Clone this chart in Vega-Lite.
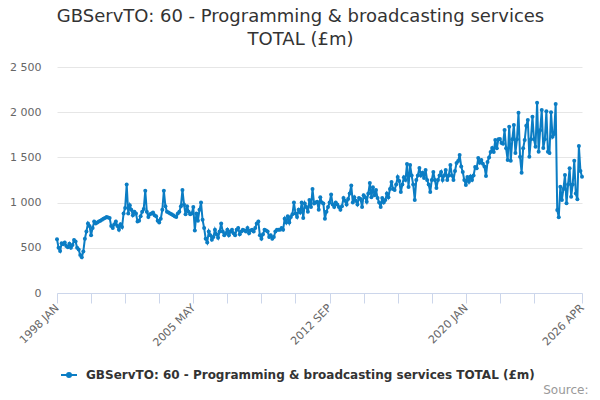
{
  "$schema": "https://vega.github.io/schema/vega-lite/v6.json",
  "width": 525,
  "height": 226,
  "autosize": "none",
  "padding": {"left": 57, "top": 67, "right": 18, "bottom": 107},
  "background": "white",
  "title": {
    "text": ["GBServTO: 60 - Programming & broadcasting services", "TOTAL (£m)"],
    "font": "DejaVu Sans",
    "fontSize": 18,
    "fontWeight": "normal",
    "color": "#333333",
    "anchor": "middle",
    "dx": -19,
    "offset": 12,
    "lineHeight": 23
  },
  "data": {
    "values": [
      {"m": "1998 JAN", "v": 595}, {"m": "1998 FEB", "v": 500}, {"m": "1998 MAR", "v": 465}, {"m": "1998 APR", "v": 550}, {"m": "1998 MAY", "v": 540}, {"m": "1998 JUN", "v": 560}, {"m": "1998 JUL", "v": 520}, {"m": "1998 AUG", "v": 505}, {"m": "1998 SEP", "v": 545}, {"m": "1998 OCT", "v": 500}, {"m": "1998 NOV", "v": 530}, {"m": "1998 DEC", "v": 585},
      {"m": "1999 JAN", "v": 570}, {"m": "1999 FEB", "v": 500}, {"m": "1999 MAR", "v": 480}, {"m": "1999 APR", "v": 420}, {"m": "1999 MAY", "v": 395}, {"m": "1999 JUN", "v": 460}, {"m": "1999 JUL", "v": 600}, {"m": "1999 AUG", "v": 680}, {"m": "1999 SEP", "v": 770}, {"m": "1999 OCT", "v": 740}, {"m": "1999 NOV", "v": 640}, {"m": "1999 DEC", "v": 720},
      {"m": "2000 JAN", "v": 790}, {"m": "2000 FEB", "v": 770}, {"m": "2000 MAR", "v": 780}, {"m": "2000 APR", "v": 790}, {"m": "2000 MAY", "v": 800}, {"m": "2000 JUN", "v": 810}, {"m": "2000 JUL", "v": 820}, {"m": "2000 AUG", "v": 830}, {"m": "2000 SEP", "v": 840}, {"m": "2000 OCT", "v": 835}, {"m": "2000 NOV", "v": 830}, {"m": "2000 DEC", "v": 740},
      {"m": "2001 JAN", "v": 720}, {"m": "2001 FEB", "v": 760}, {"m": "2001 MAR", "v": 790}, {"m": "2001 APR", "v": 740}, {"m": "2001 MAY", "v": 700}, {"m": "2001 JUN", "v": 760}, {"m": "2001 JUL", "v": 730}, {"m": "2001 AUG", "v": 880}, {"m": "2001 SEP", "v": 940}, {"m": "2001 OCT", "v": 1200}, {"m": "2001 NOV", "v": 880}, {"m": "2001 DEC", "v": 970},
      {"m": "2002 JAN", "v": 920}, {"m": "2002 FEB", "v": 860}, {"m": "2002 MAR", "v": 900}, {"m": "2002 APR", "v": 880}, {"m": "2002 MAY", "v": 790}, {"m": "2002 JUN", "v": 800}, {"m": "2002 JUL", "v": 850}, {"m": "2002 AUG", "v": 900}, {"m": "2002 SEP", "v": 930}, {"m": "2002 OCT", "v": 1130}, {"m": "2002 NOV", "v": 900}, {"m": "2002 DEC", "v": 840},
      {"m": "2003 JAN", "v": 870}, {"m": "2003 FEB", "v": 880}, {"m": "2003 MAR", "v": 890}, {"m": "2003 APR", "v": 860}, {"m": "2003 MAY", "v": 850}, {"m": "2003 JUN", "v": 800}, {"m": "2003 JUL", "v": 780}, {"m": "2003 AUG", "v": 820}, {"m": "2003 SEP", "v": 920}, {"m": "2003 OCT", "v": 1130}, {"m": "2003 NOV", "v": 960}, {"m": "2003 DEC", "v": 900},
      {"m": "2004 JAN", "v": 890}, {"m": "2004 FEB", "v": 880}, {"m": "2004 MAR", "v": 870}, {"m": "2004 APR", "v": 860}, {"m": "2004 MAY", "v": 850}, {"m": "2004 JUN", "v": 840}, {"m": "2004 JUL", "v": 880}, {"m": "2004 AUG", "v": 900}, {"m": "2004 SEP", "v": 960}, {"m": "2004 OCT", "v": 1140}, {"m": "2004 NOV", "v": 980}, {"m": "2004 DEC", "v": 870},
      {"m": "2005 JAN", "v": 960}, {"m": "2005 FEB", "v": 900}, {"m": "2005 MAR", "v": 870}, {"m": "2005 APR", "v": 880}, {"m": "2005 MAY", "v": 950}, {"m": "2005 JUN", "v": 690}, {"m": "2005 JUL", "v": 880}, {"m": "2005 AUG", "v": 800}, {"m": "2005 SEP", "v": 920}, {"m": "2005 OCT", "v": 1000}, {"m": "2005 NOV", "v": 810}, {"m": "2005 DEC", "v": 720},
      {"m": "2006 JAN", "v": 600}, {"m": "2006 FEB", "v": 560}, {"m": "2006 MAR", "v": 680}, {"m": "2006 APR", "v": 640}, {"m": "2006 MAY", "v": 590}, {"m": "2006 JUN", "v": 620}, {"m": "2006 JUL", "v": 700}, {"m": "2006 AUG", "v": 650}, {"m": "2006 SEP", "v": 610}, {"m": "2006 OCT", "v": 680}, {"m": "2006 NOV", "v": 770}, {"m": "2006 DEC", "v": 680},
      {"m": "2007 JAN", "v": 640}, {"m": "2007 FEB", "v": 660}, {"m": "2007 MAR", "v": 700}, {"m": "2007 APR", "v": 640}, {"m": "2007 MAY", "v": 680}, {"m": "2007 JUN", "v": 700}, {"m": "2007 JUL", "v": 660}, {"m": "2007 AUG", "v": 640}, {"m": "2007 SEP", "v": 700}, {"m": "2007 OCT", "v": 720}, {"m": "2007 NOV", "v": 650}, {"m": "2007 DEC", "v": 680},
      {"m": "2008 JAN", "v": 700}, {"m": "2008 FEB", "v": 690}, {"m": "2008 MAR", "v": 680}, {"m": "2008 APR", "v": 720}, {"m": "2008 MAY", "v": 660}, {"m": "2008 JUN", "v": 690}, {"m": "2008 JUL", "v": 700}, {"m": "2008 AUG", "v": 680}, {"m": "2008 SEP", "v": 720}, {"m": "2008 OCT", "v": 770}, {"m": "2008 NOV", "v": 790}, {"m": "2008 DEC", "v": 640},
      {"m": "2009 JAN", "v": 600}, {"m": "2009 FEB", "v": 650}, {"m": "2009 MAR", "v": 700}, {"m": "2009 APR", "v": 690}, {"m": "2009 MAY", "v": 680}, {"m": "2009 JUN", "v": 620}, {"m": "2009 JUL", "v": 640}, {"m": "2009 AUG", "v": 600}, {"m": "2009 SEP", "v": 620}, {"m": "2009 OCT", "v": 680}, {"m": "2009 NOV", "v": 700}, {"m": "2009 DEC", "v": 700},
      {"m": "2010 JAN", "v": 700}, {"m": "2010 FEB", "v": 720}, {"m": "2010 MAR", "v": 700}, {"m": "2010 APR", "v": 820}, {"m": "2010 MAY", "v": 780}, {"m": "2010 JUN", "v": 850}, {"m": "2010 JUL", "v": 780}, {"m": "2010 AUG", "v": 840}, {"m": "2010 SEP", "v": 870}, {"m": "2010 OCT", "v": 1000}, {"m": "2010 NOV", "v": 880}, {"m": "2010 DEC", "v": 840},
      {"m": "2011 JAN", "v": 920}, {"m": "2011 FEB", "v": 890}, {"m": "2011 MAR", "v": 1000}, {"m": "2011 APR", "v": 830}, {"m": "2011 MAY", "v": 990}, {"m": "2011 JUN", "v": 950}, {"m": "2011 JUL", "v": 900}, {"m": "2011 AUG", "v": 1030}, {"m": "2011 SEP", "v": 950}, {"m": "2011 OCT", "v": 1150}, {"m": "2011 NOV", "v": 990}, {"m": "2011 DEC", "v": 1000},
      {"m": "2012 JAN", "v": 1010}, {"m": "2012 FEB", "v": 920}, {"m": "2012 MAR", "v": 1060}, {"m": "2012 APR", "v": 1000}, {"m": "2012 MAY", "v": 990}, {"m": "2012 JUN", "v": 820}, {"m": "2012 JUL", "v": 900}, {"m": "2012 AUG", "v": 950}, {"m": "2012 SEP", "v": 1000}, {"m": "2012 OCT", "v": 1090}, {"m": "2012 NOV", "v": 980}, {"m": "2012 DEC", "v": 950},
      {"m": "2013 JAN", "v": 1000}, {"m": "2013 FEB", "v": 980}, {"m": "2013 MAR", "v": 950}, {"m": "2013 APR", "v": 920}, {"m": "2013 MAY", "v": 960}, {"m": "2013 JUN", "v": 1050}, {"m": "2013 JUL", "v": 1020}, {"m": "2013 AUG", "v": 980}, {"m": "2013 SEP", "v": 1040}, {"m": "2013 OCT", "v": 1100}, {"m": "2013 NOV", "v": 1190}, {"m": "2013 DEC", "v": 1000},
      {"m": "2014 JAN", "v": 1060}, {"m": "2014 FEB", "v": 1020}, {"m": "2014 MAR", "v": 980}, {"m": "2014 APR", "v": 1050}, {"m": "2014 MAY", "v": 1040}, {"m": "2014 JUN", "v": 950}, {"m": "2014 JUL", "v": 1080}, {"m": "2014 AUG", "v": 1060}, {"m": "2014 SEP", "v": 1010}, {"m": "2014 OCT", "v": 1100}, {"m": "2014 NOV", "v": 1216}, {"m": "2014 DEC", "v": 1060},
      {"m": "2015 JAN", "v": 1170}, {"m": "2015 FEB", "v": 1080}, {"m": "2015 MAR", "v": 1140}, {"m": "2015 APR", "v": 1050}, {"m": "2015 MAY", "v": 1000}, {"m": "2015 JUN", "v": 950}, {"m": "2015 JUL", "v": 1050}, {"m": "2015 AUG", "v": 1000}, {"m": "2015 SEP", "v": 1030}, {"m": "2015 OCT", "v": 1100}, {"m": "2015 NOV", "v": 1060}, {"m": "2015 DEC", "v": 1150},
      {"m": "2016 JAN", "v": 1228}, {"m": "2016 FEB", "v": 1150}, {"m": "2016 MAR", "v": 1139}, {"m": "2016 APR", "v": 1200}, {"m": "2016 MAY", "v": 1283}, {"m": "2016 JUN", "v": 1240}, {"m": "2016 JUL", "v": 1117}, {"m": "2016 AUG", "v": 1200}, {"m": "2016 SEP", "v": 1280}, {"m": "2016 OCT", "v": 1250}, {"m": "2016 NOV", "v": 1427}, {"m": "2016 DEC", "v": 1172},
      {"m": "2017 JAN", "v": 1416}, {"m": "2017 FEB", "v": 1300}, {"m": "2017 MAR", "v": 1200}, {"m": "2017 APR", "v": 1029}, {"m": "2017 MAY", "v": 1250}, {"m": "2017 JUN", "v": 1300}, {"m": "2017 JUL", "v": 1383}, {"m": "2017 AUG", "v": 1300}, {"m": "2017 SEP", "v": 1330}, {"m": "2017 OCT", "v": 1272}, {"m": "2017 NOV", "v": 1360}, {"m": "2017 DEC", "v": 1250},
      {"m": "2018 JAN", "v": 1200}, {"m": "2018 FEB", "v": 1117}, {"m": "2018 MAR", "v": 1250}, {"m": "2018 APR", "v": 1338}, {"m": "2018 MAY", "v": 1250}, {"m": "2018 JUN", "v": 1161}, {"m": "2018 JUL", "v": 1250}, {"m": "2018 AUG", "v": 1300}, {"m": "2018 SEP", "v": 1338}, {"m": "2018 OCT", "v": 1250}, {"m": "2018 NOV", "v": 1300}, {"m": "2018 DEC", "v": 1360},
      {"m": "2019 JAN", "v": 1250}, {"m": "2019 FEB", "v": 1300}, {"m": "2019 MAR", "v": 1416}, {"m": "2019 APR", "v": 1300}, {"m": "2019 MAY", "v": 1250}, {"m": "2019 JUN", "v": 1350}, {"m": "2019 JUL", "v": 1438}, {"m": "2019 AUG", "v": 1460}, {"m": "2019 SEP", "v": 1526}, {"m": "2019 OCT", "v": 1400}, {"m": "2019 NOV", "v": 1338}, {"m": "2019 DEC", "v": 1250},
      {"m": "2020 JAN", "v": 1194}, {"m": "2020 FEB", "v": 1283}, {"m": "2020 MAR", "v": 1230}, {"m": "2020 APR", "v": 1290}, {"m": "2020 MAY", "v": 1250}, {"m": "2020 JUN", "v": 1300}, {"m": "2020 JUL", "v": 1394}, {"m": "2020 AUG", "v": 1380}, {"m": "2020 SEP", "v": 1493}, {"m": "2020 OCT", "v": 1440}, {"m": "2020 NOV", "v": 1471}, {"m": "2020 DEC", "v": 1430},
      {"m": "2021 JAN", "v": 1400}, {"m": "2021 FEB", "v": 1294}, {"m": "2021 MAR", "v": 1450}, {"m": "2021 APR", "v": 1500}, {"m": "2021 MAY", "v": 1559}, {"m": "2021 JUN", "v": 1604}, {"m": "2021 JUL", "v": 1560}, {"m": "2021 AUG", "v": 1692}, {"m": "2021 SEP", "v": 1600}, {"m": "2021 OCT", "v": 1700}, {"m": "2021 NOV", "v": 1703}, {"m": "2021 DEC", "v": 1659},
      {"m": "2022 JAN", "v": 1650}, {"m": "2022 FEB", "v": 1803}, {"m": "2022 MAR", "v": 1600}, {"m": "2022 APR", "v": 1471}, {"m": "2022 MAY", "v": 1840}, {"m": "2022 JUN", "v": 1463}, {"m": "2022 JUL", "v": 1700}, {"m": "2022 AUG", "v": 1858}, {"m": "2022 SEP", "v": 1548}, {"m": "2022 OCT", "v": 1700}, {"m": "2022 NOV", "v": 1994}, {"m": "2022 DEC", "v": 1508},
      {"m": "2023 JAN", "v": 1331}, {"m": "2023 FEB", "v": 1600}, {"m": "2023 MAR", "v": 1692}, {"m": "2023 APR", "v": 1850}, {"m": "2023 MAY", "v": 1913}, {"m": "2023 JUN", "v": 1508}, {"m": "2023 JUL", "v": 1700}, {"m": "2023 AUG", "v": 1950}, {"m": "2023 SEP", "v": 1700}, {"m": "2023 OCT", "v": 1618}, {"m": "2023 NOV", "v": 2105}, {"m": "2023 DEC", "v": 1563},
      {"m": "2024 JAN", "v": 1800}, {"m": "2024 FEB", "v": 2024}, {"m": "2024 MAR", "v": 1604}, {"m": "2024 APR", "v": 1700}, {"m": "2024 MAY", "v": 2010}, {"m": "2024 JUN", "v": 1563}, {"m": "2024 JUL", "v": 1548}, {"m": "2024 AUG", "v": 2000}, {"m": "2024 SEP", "v": 1729}, {"m": "2024 OCT", "v": 1760}, {"m": "2024 NOV", "v": 2090}, {"m": "2024 DEC", "v": 918},
      {"m": "2025 JAN", "v": 837}, {"m": "2025 FEB", "v": 1176}, {"m": "2025 MAR", "v": 1029}, {"m": "2025 APR", "v": 1150}, {"m": "2025 MAY", "v": 1305}, {"m": "2025 JUN", "v": 992}, {"m": "2025 JUL", "v": 1200}, {"m": "2025 AUG", "v": 1379}, {"m": "2025 SEP", "v": 1065}, {"m": "2025 OCT", "v": 1200}, {"m": "2025 NOV", "v": 1463}, {"m": "2025 DEC", "v": 1100},
      {"m": "2026 JAN", "v": 1036}, {"m": "2026 FEB", "v": 1626}, {"m": "2026 MAR", "v": 1350}, {"m": "2026 APR", "v": 1286}
    ]
  },
  "mark": {
    "type": "line",
    "strokeWidth": 2,
    "point": {"filled": true, "size": 16}
  },
  "encoding": {
    "x": {
      "field": "m",
      "type": "ordinal",
      "sort": null,
      "scale": {"type": "point", "padding": 0},
      "axis": {
        "values": ["1998 JAN", "1999 NOV", "2001 SEP", "2003 JUL", "2005 MAY", "2007 MAR", "2009 JAN", "2010 NOV", "2012 SEP", "2014 JUL", "2016 MAY", "2018 MAR", "2020 JAN", "2021 NOV", "2023 SEP", "2026 APR"],
        "labelExpr": "indexof(['1998 JAN', '2005 MAY', '2012 SEP', '2020 JAN', '2026 APR'], datum.value) >= 0 ? datum.value : ''",
        "labelAngle": -45,
        "labelAlign": "right",
        "labelBaseline": "middle",
        "labelPadding": 3,
        "labelOverlap": false,
        "labelFont": "DejaVu Sans",
        "labelFontSize": 11,
        "labelColor": "#666666",
        "domainColor": "#ccd6eb",
        "tickColor": "#ccd6eb",
        "tickSize": 10,
        "grid": false,
        "title": "Source:",
        "titleAnchor": "end",
        "titleAlign": "right",
        "titleX": 531,
        "titleFont": "DejaVu Sans",
        "titleFontSize": 12,
        "titleFontWeight": "normal",
        "titleColor": "#999999",
        "titlePadding": 37
      }
    },
    "y": {
      "field": "v",
      "type": "quantitative",
      "scale": {"domain": [0, 2500], "nice": false},
      "axis": {
        "values": [0, 500, 1000, 1500, 2000, 2500],
        "labelExpr": "replace(format(datum.value, ','), ',', ' ')",
        "domain": false,
        "ticks": false,
        "gridColor": "#e6e6e6",
        "labelPadding": 16,
        "labelFont": "DejaVu Sans",
        "labelFontSize": 11,
        "labelColor": "#666666",
        "title": null
      }
    },
    "color": {
      "datum": "GBServTO: 60 - Programming & broadcasting services TOTAL (£m)",
      "scale": {"range": ["#0b7dc4"]},
      "legend": {
        "title": null,
        "orient": "none",
        "legendX": 3,
        "legendY": 299,
        "symbolType": "M-1,0L1,0M-0.25,0A0.25,0.25,0,1,0,0.25,0A0.25,0.25,0,1,0,-0.25,0",
        "symbolSize": 256,
        "symbolStrokeWidth": 2,
        "symbolFillColor": "#0b7dc4",
        "labelFont": "DejaVu Sans",
        "labelFontSize": 12,
        "labelFontWeight": "bold",
        "labelColor": "#333333",
        "labelOffset": 8,
        "labelLimit": 0
      }
    }
  },
  "config": {"view": {"stroke": null}}
}
